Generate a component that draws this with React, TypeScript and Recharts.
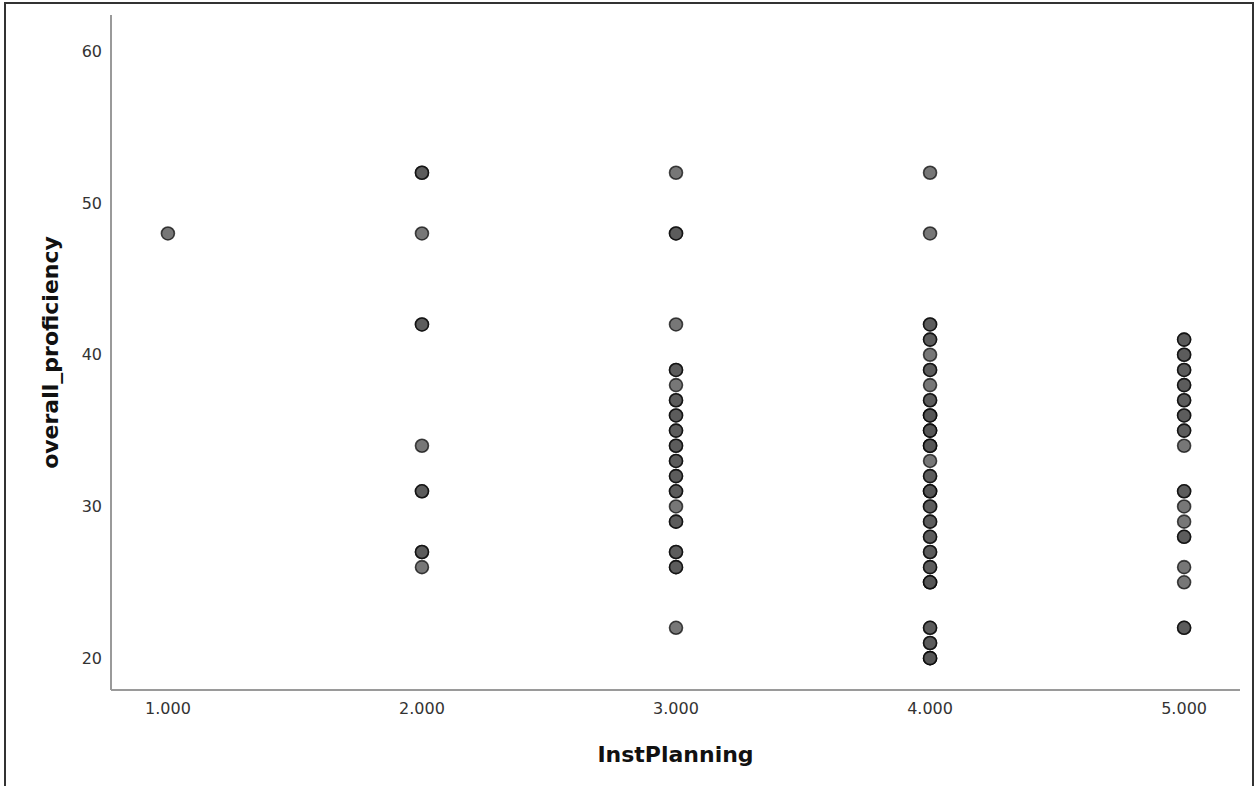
import { Label, Scatter, ScatterChart, XAxis, YAxis } from "recharts";

// overall_proficiency scores observed at each InstPlanning level (repeats = overlapping cases)
const level1Scores = [48];
const level2Scores = [52, 52, 48, 42, 42, 34, 31, 31, 27, 27, 26];
const level3Scores = [
  52, 48, 48, 42, 39, 39, 38, 37, 37, 36, 36, 35, 35, 34, 34, 33, 33, 32, 32,
  31, 31, 30, 29, 29, 27, 27, 26, 26, 22,
];
const level4Scores = [
  52, 48, 42, 42, 41, 41, 40, 39, 39, 38, 37, 37, 36, 36, 36, 35, 35, 35, 34,
  34, 34, 33, 32, 32, 31, 31, 31, 30, 30, 29, 29, 28, 28, 27, 27, 26, 26, 25,
  25, 25, 22, 22, 21, 21, 20, 20, 20,
];
const level5Scores = [
  41, 41, 40, 40, 39, 39, 38, 38, 37, 37, 36, 36, 35, 35, 34, 31, 31, 30, 29,
  28, 28, 26, 25, 22, 22,
];

const levels = [1, 2, 3, 4, 5];
const scoresByLevel = [level1Scores, level2Scores, level3Scores, level4Scores, level5Scores];
const xTicks = [1, 2, 3, 4, 5];
const yTicks = [20, 30, 40, 50, 60];

const points = levels.flatMap((level, i) =>
  scoresByLevel[i].map((score) => ({ instPlanning: level, proficiency: score }))
);

const FONT = "'DejaVu Sans', Verdana, sans-serif";
const tickStyle = { fill: "#333", fontSize: 16, fontFamily: FONT };
const axisStyle = { stroke: "#9a9a9a", strokeWidth: 2 };

const Dot = (props: any) => (
  <circle
    cx={props.cx}
    cy={props.cy}
    r={6.5}
    fill="#555"
    fillOpacity={0.8}
    stroke="#000"
    strokeOpacity={0.7}
    strokeWidth={1.6}
  />
);

export default function App() {
  return (
    <div
      style={{
        position: "absolute",
        left: 0,
        top: 0,
        width: 1255,
        height: 786,
        overflow: "hidden",
        background: "#fff",
      }}
    >
      <div
        style={{
          position: "absolute",
          left: 4,
          top: 2,
          width: 1250,
          height: 820,
          border: "2px solid #333",
          boxSizing: "border-box",
        }}
      />
      <ScatterChart
        width={1255}
        height={786}
        margin={{ top: 15, right: 15, left: 0, bottom: 0 }}
        style={{ position: "absolute", left: 0, top: 0 }}
      >
        <XAxis
          type="number"
          dataKey="instPlanning"
          domain={[0.776, 5.22]}
          ticks={xTicks}
          tickFormatter={(v: number) => v.toFixed(3)}
          height={96}
          tickLine={false}
          tickMargin={7}
          axisLine={axisStyle}
          tick={tickStyle}
          allowDataOverflow
        >
          <Label
            content={({ viewBox }: any) => (
              <text
                x={viewBox.x + viewBox.width / 2}
                y={viewBox.y + 72}
                textAnchor="middle"
                fontFamily={FONT}
                fontWeight="bold"
                fontSize={22}
                fill="#111"
              >
                InstPlanning
              </text>
            )}
          />
        </XAxis>
        <YAxis
          type="number"
          dataKey="proficiency"
          domain={[17.9, 62.4]}
          ticks={yTicks}
          width={111}
          tickLine={false}
          tickMargin={3}
          axisLine={axisStyle}
          tick={tickStyle}
          allowDataOverflow
        >
          <Label
            content={({ viewBox }: any) => (
              <text
                transform={`translate(50, ${viewBox.y + viewBox.height / 2}) rotate(-90)`}
                textAnchor="middle"
                dominantBaseline="central"
                fontFamily={FONT}
                fontWeight="bold"
                fontSize={22}
                fill="#111"
              >
                overall_proficiency
              </text>
            )}
          />
        </YAxis>
        <Scatter data={points} shape={Dot} isAnimationActive={false} />
      </ScatterChart>
    </div>
  );
}
